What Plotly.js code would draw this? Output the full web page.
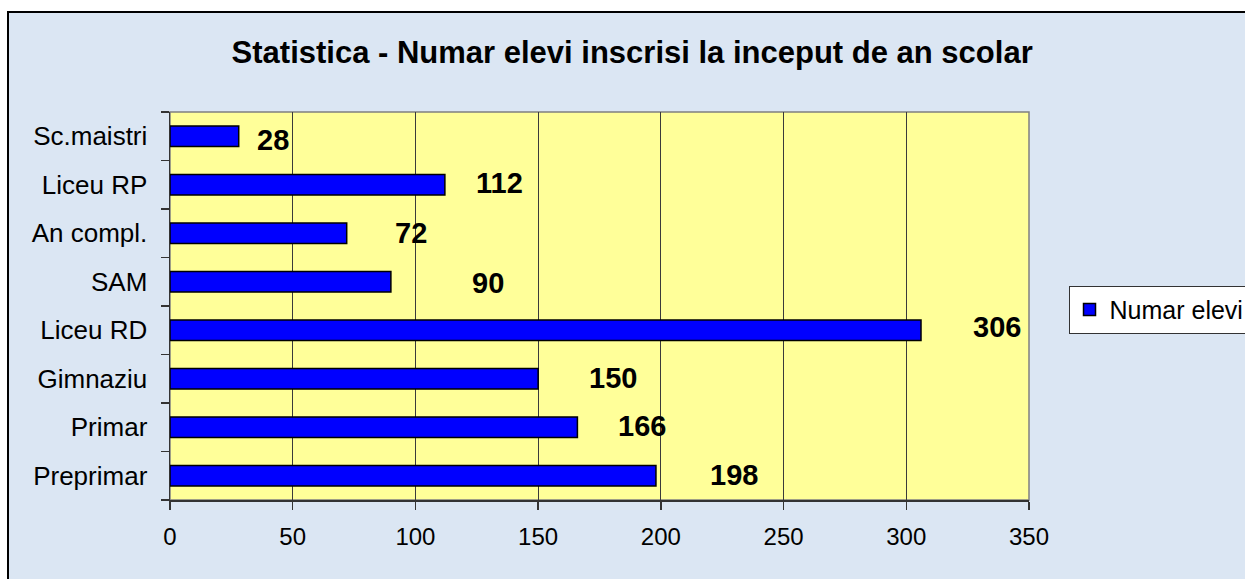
<!DOCTYPE html>
<html>
<head>
<meta charset="utf-8">
<script src="https://cdn.plot.ly/plotly-3.0.1.min.js"></script>
<style>
  html, body { margin: 0; padding: 0; background: #ffffff; overflow: hidden; }
  #frame { position: absolute; left: 7px; top: 11px; width: 1236px; height: 566px;
           border-left: 2px solid #000; border-top: 2px solid #000; }
  #chart { width: 1236px; height: 566px; }
</style>
</head>
<body>
<div id="frame"><div id="chart"></div></div>
<script>
// Data (bottom to top, as drawn)
const categories = ["Preprimar", "Primar", "Gimnaziu", "Liceu RD", "SAM", "An compl.", "Liceu RP", "Sc.maistri"];
const values = [198, 166, 150, 306, 90, 72, 112, 28];
const seriesName = "Numar elevi";
const xTicks = [0, 50, 100, 150, 200, 250, 300, 350];
const chartTitle = "Statistica - Numar elevi inscrisi la inceput de an scolar";

// Label pixel offsets from bar end (style)
const labelShift = [52, 39, 49, 50, 79, 46, 29, 16];
const labelLift = [1, 1, 1, 3, -1, 0, 2, -4];

const FONT = "Liberation Sans, Arial, sans-serif";

const trace = {
  type: "bar",
  orientation: "h",
  y: categories,
  x: values,
  name: seriesName,
  marker: { color: "#0000FF", line: { color: "#000000", width: 1.5 } },
  showlegend: true,
  hoverinfo: "x+y"
};

const annotations = categories.map((c, i) => ({
  x: values[i], y: c, xref: "x", yref: "y",
  text: String(values[i]),
  showarrow: false,
  xanchor: "left", yanchor: "middle",
  xshift: labelShift[i], yshift: labelLift[i],
  font: { family: FONT, size: 29, color: "#000000", weight: "bold" }
}));

const layout = {
  width: 1236, height: 566,
  margin: { l: 161, r: 216, t: 99, b: 79, autoexpand: false },
  paper_bgcolor: "#dbe6f3",
  plot_bgcolor: "#FFFF99",
  bargap: 0.58,
  title: {
    text: "<b>" + chartTitle + "</b>",
    x: 0.538, xref: "paper", xanchor: "center",
    y: 0.930, yanchor: "middle",
    font: { family: FONT, size: 31, color: "#000000" }
  },
  xaxis: {
    range: [0, 350],
    tickvals: xTicks,
    ticktext: xTicks.map(String),
    showgrid: true, gridcolor: "#3a3a3a", gridwidth: 1,
    zeroline: false,
    showline: true, linecolor: "#333333", linewidth: 1.5,
    ticks: "outside", ticklen: 8, tickcolor: "#333333", tickwidth: 1.5,
    ticklabelstandoff: 7,
    tickfont: { family: FONT, size: 24, color: "#000000" },
    fixedrange: true
  },
  yaxis: {
    type: "category",
    categoryorder: "array", categoryarray: categories,
    showgrid: false,
    showline: true, linecolor: "#333333", linewidth: 1.5,
    ticks: "outside", ticklen: 8, tickcolor: "#333333", tickwidth: 1.5,
    tickson: "boundaries",
    ticklabelstandoff: 16,
    tickfont: { family: FONT, size: 26, color: "#000000" },
    fixedrange: true
  },
  legend: {
    x: 1.046, xanchor: "left",
    y: 0.552, yanchor: "top",
    bgcolor: "#ffffff", bordercolor: "#333333", borderwidth: 1,
    font: { family: FONT, size: 25, color: "#000000" },
    itemwidth: 30
  },
  shapes: [
    { type: "rect", xref: "paper", yref: "paper", x0: 0, x1: 1, y0: 0, y1: 1,
      line: { color: "#808080", width: 1.5 }, fillcolor: "rgba(0,0,0,0)", layer: "below" }
  ],
  annotations: annotations
};

Plotly.newPlot("chart", [trace], layout, { displayModeBar: false, staticPlot: true });
</script>
</body>
</html>
